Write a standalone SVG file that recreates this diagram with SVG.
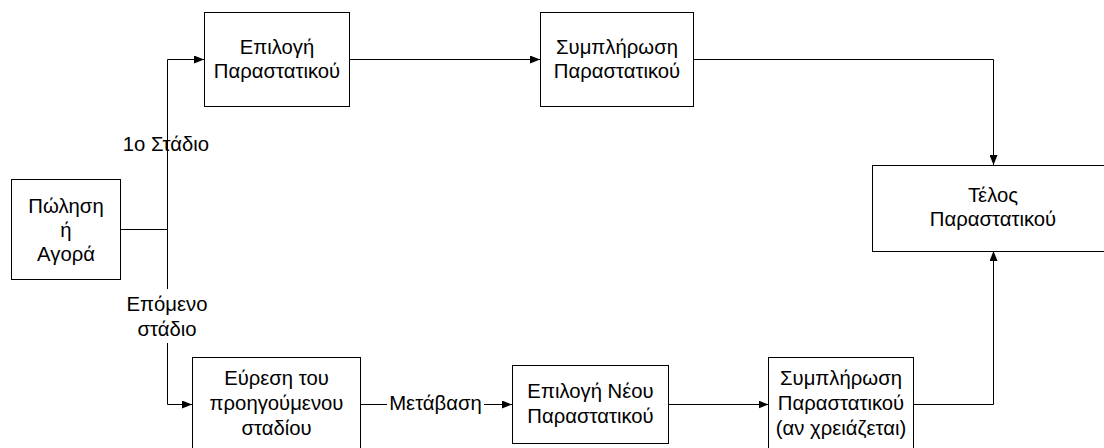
<svg xmlns="http://www.w3.org/2000/svg" width="1104" height="448" viewBox="0 0 1104 448">
<style>
.box{fill:#fff;stroke:#000;stroke-width:1}
.t{font-family:"Liberation Sans",Arial,sans-serif;font-size:20.3px;fill:#000;text-anchor:middle}
.c{fill:none;stroke:#000;stroke-width:1}
</style>
<defs>
<marker id="ah" markerWidth="10" markerHeight="8" refX="10" refY="4" orient="auto" markerUnits="userSpaceOnUse">
<path d="M0,0 L10,4 L0,8 Z" fill="#000"/>
</marker>
</defs>
<rect width="1104" height="448" fill="#fff"/>
<g id="connectors">
<path class="c" d="M120.5,229.5 H167.5"/>
<path class="c" d="M167.5,229.5 V130"/>
<path class="c" d="M167.5,158 V59.5 H204" marker-end="url(#ah)"/>
<path class="c" d="M167.5,229.5 V289"/>
<path class="c" d="M167.5,343 V404.5 H192" marker-end="url(#ah)"/>
<path class="c" d="M349.5,59.5 H540" marker-end="url(#ah)"/>
<path class="c" d="M693.5,59.5 H993.5 V165" marker-end="url(#ah)"/>
<path class="c" d="M360.5,404.5 H387"/>
<path class="c" d="M484,404.5 H512" marker-end="url(#ah)"/>
<path class="c" d="M668.5,404.5 H768.5" marker-end="url(#ah)"/>
<path class="c" d="M913.5,404.5 H993.5 V251" marker-end="url(#ah)"/>
<text class="t" x="166" y="151">1ο Στάδιο</text>
<text class="t" x="167" y="311">Επόμενο</text>
<text class="t" x="167" y="336">στάδιο</text>
<text class="t" x="435.5" y="410">Μετάβαση</text>
</g>
<g id="n_polisi">
<rect class="box" x="11.5" y="179.5" width="109" height="100"/>
<text class="t" x="66" y="213">Πώληση</text>
<text class="t" x="66" y="237">ή</text>
<text class="t" x="66" y="261">Αγορά</text>
</g>
<g id="n_epilogi">
<rect class="box" x="204.5" y="12.5" width="145" height="94"/>
<text class="t" x="277" y="54">Επιλογή</text>
<text class="t" x="277" y="78">Παραστατικού</text>
</g>
<g id="n_symplirosi">
<rect class="box" x="540.5" y="12.5" width="153" height="94"/>
<text class="t" x="617" y="54">Συμπλήρωση</text>
<text class="t" x="617" y="78">Παραστατικού</text>
</g>
<g id="n_telos">
<rect class="box" x="872.5" y="165.5" width="240" height="86"/>
<text class="t" x="993" y="202">Τέλος</text>
<text class="t" x="993" y="226">Παραστατικού</text>
</g>
<g id="n_evresi">
<rect class="box" x="192.5" y="357.5" width="168" height="110"/>
<text class="t" x="276.5" y="385">Εύρεση του</text>
<text class="t" x="276.5" y="410">προηγούμενου</text>
<text class="t" x="276.5" y="435">σταδίου</text>
</g>
<g id="n_epilogi_neou">
<rect class="box" x="512.5" y="365.5" width="156" height="78"/>
<text class="t" x="590.5" y="398">Επιλογή Νέου</text>
<text class="t" x="590.5" y="423">Παραστατικού</text>
</g>
<g id="n_symplirosi2">
<rect class="box" x="768.5" y="357.5" width="145" height="110"/>
<text class="t" x="841" y="385">Συμπλήρωση</text>
<text class="t" x="841" y="410">Παραστατικού</text>
<text class="t" x="841" y="435">(αν χρειάζεται)</text>
</g>
</svg>
